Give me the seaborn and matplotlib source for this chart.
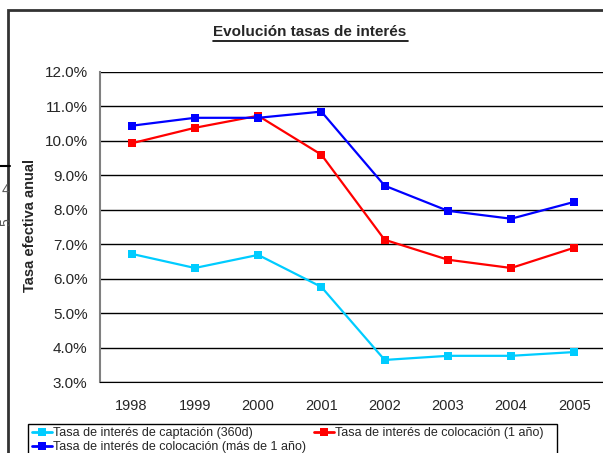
import numpy as np
import pandas as pd
import matplotlib
matplotlib.use('Agg')
import matplotlib.pyplot as plt
from matplotlib.patches import Rectangle
from matplotlib.lines import Line2D
import seaborn as sns

# datos (tasas en %)
years = ['1998', '1999', '2000', '2001', '2002', '2003', '2004', '2005']
captacion = [6.72, 6.31, 6.69, 5.76, 3.64, 3.76, 3.76, 3.87]
colocacion_1 = [9.93, 10.38, 10.73, 9.60, 7.13, 6.55, 6.31, 6.90]
colocacion_mas = [10.44, 10.67, 10.67, 10.85, 8.70, 7.97, 7.74, 8.23]

names = ['Tasa de interés de captación (360d)',
         'Tasa de interés de colocación (1 año)',
         'Tasa de interés de colocación (más de 1 año)']
colors = ['#00CCFF', '#FF0000', '#0000FF']

df = pd.DataFrame({
    'year': years * 3,
    'rate': captacion + colocacion_1 + colocacion_mas,
    'serie': [names[0]] * 8 + [names[1]] * 8 + [names[2]] * 8,
})

sns.set_style('white')
plt.rcParams['font.family'] = ['Liberation Sans', 'DejaVu Sans']

fig = plt.figure(figsize=(6.03, 4.53), dpi=100)
W, H = 603, 453
ax = fig.add_axes([100 / W, 1 - 382 / H, 506 / W, 310 / H])

sns.lineplot(data=df, x='year', y='rate', hue='serie', palette=colors,
             hue_order=names, marker='s', markersize=6, markeredgewidth=0,
             linewidth=1.6, ax=ax, legend=False, sort=False)

ax.set_xlim(-0.5, 7.5)
ax.set_ylim(3, 12)
ax.set_yticks(np.arange(3, 12.1, 1))
ax.set_yticklabels([f'{v:.1f}%' for v in np.arange(3, 12.1, 1)], fontsize=11)
ax.set_xticks(range(8))
ax.set_xticklabels(years, fontsize=10.5)
ax.set_xticks(np.arange(-0.5, 7.6, 1), minor=True)
ax.tick_params(axis='x', which='major', length=0, pad=12)
ax.tick_params(axis='x', which='minor', length=5, width=1, color='black', direction='out')
ax.tick_params(axis='y', length=5, width=1, color='black', direction='out', pad=4)
ax.set_xlabel('')
ax.set_ylabel('')
ax.grid(axis='y', color='black', linewidth=1)
ax.set_axisbelow(True)
ax.spines['left'].set_color('#808080')
ax.spines['left'].set_linewidth(1.5)
ax.spines['bottom'].set_color('black')
ax.spines['top'].set_visible(False)
ax.spines['right'].set_visible(False)

# borde exterior del gráfico
fig.patches.append(Rectangle((8 / W, -0.2), 1.2, 1.2 - 10 / H,
                             transform=fig.transFigure, fill=False,
                             edgecolor='#333333', linewidth=2))

fig.text(310 / W, 1 - 32 / H, 'Evolución tasas de interés', ha='center',
         va='center', fontsize=11, fontweight='bold')
fig.add_artist(Line2D([213 / W, 408 / W], [1 - 41 / H, 1 - 41 / H],
                      color='black', linewidth=1.2))
fig.text(30 / W, 1 - 225 / H, 'Tasa efectiva anual', rotation=90, ha='center',
         va='center', fontsize=10.5, fontweight='bold')

# restos de otro gráfico a la izquierda
fig.text(6 / W, 1 - 190 / H, '4', ha='center', va='center', fontsize=10, color='#555555')
fig.text(6 / W, 1 - 222 / H, '5', ha='center', va='center', fontsize=10,
         color='#555555', rotation=90)
fig.add_artist(Line2D([0, 10 / W], [1 - 166 / H, 1 - 166 / H], color='black', linewidth=1.5))

# leyenda: marco aparte, texto en dos columnas
fig.patches.append(Rectangle((28 / W, -0.1), 529 / W, 0.1 + 1 - 424 / H,
                             transform=fig.transFigure, fill=False,
                             edgecolor='black', linewidth=1))
handles = [Line2D([], [], color=c, marker='s', markersize=6, linewidth=2, markeredgewidth=0)
           for c in colors]
order = [0, 2, 1]
leg = fig.legend([handles[i] for i in order], [names[i] for i in order],
                 loc='upper left', bbox_to_anchor=(29 / W, 1 - 424 / H, 518 / W, 0.0),
                 mode='expand', ncol=2, fontsize=9, frameon=False,
                 handlelength=1.6, handletextpad=0.1, borderpad=0.25, labelspacing=0.15,
                 borderaxespad=0)

fig.savefig('out.png', dpi=100)
